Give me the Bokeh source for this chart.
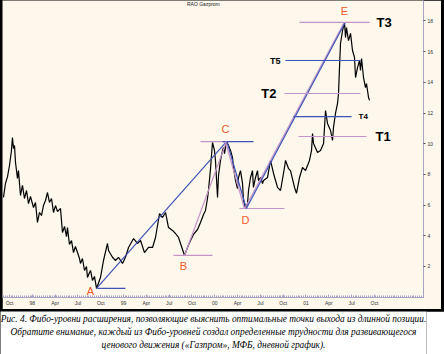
from bokeh.plotting import figure
from bokeh.models import Range1d, FixedTicker, ColumnDataSource
from bokeh.layouts import column
from bokeh.embed import file_html
from bokeh.resources import INLINE
from bokeh.core.properties import value

# x = months since 1 Oct 1997, y = price
price_month = [0.00, 0.26, 0.53, 0.79, 1.05, 1.18, 1.32, 1.45, 1.58, 1.84, 1.97, 2.24, 2.50, 2.76, 3.03,
               3.29, 3.55, 3.95, 4.21, 4.47, 4.74, 5.00, 5.26, 5.53, 5.79, 6.05, 6.32, 6.58, 6.84, 7.11,
               7.50, 7.76, 8.03, 8.29, 8.42, 8.68, 8.95, 9.21, 9.47, 9.74, 10.00, 10.13, 10.39, 10.66,
               10.92, 11.05, 11.32, 11.45, 11.71, 11.97, 12.24,
               12.76, 13.16, 13.68, 13.82, 14.34, 14.74, 15.13, 15.66, 16.05, 16.45, 17.11, 17.63, 18.03,
               18.55, 19.08, 19.61, 20.00, 20.53, 20.92, 21.32, 21.71, 22.24, 22.63, 23.03, 23.29, 23.82,
               24.21, 24.61, 25.00, 25.53, 25.92, 26.32, 26.58, 26.84, 26.97, 27.24, 27.50, 27.76, 27.89,
               28.16, 28.29, 28.55, 28.82, 28.95, 29.08, 29.34,
               29.61, 29.87, 30.13, 30.26, 30.53, 30.79, 30.92, 31.18, 31.45, 31.58, 31.84,
               32.11, 32.24, 32.50, 32.76, 32.89, 33.16, 33.42, 33.55, 33.82, 34.08, 34.21, 34.74, 35.13,
               35.53, 36.05, 36.45, 36.97, 37.11, 37.50, 37.76, 38.29, 38.55, 38.95, 39.34, 39.74, 40.26,
               40.53, 40.66, 40.79, 41.32, 41.71, 42.11, 42.37, 42.63, 43.03, 43.29, 43.42, 43.68, 43.95,
               44.08, 44.21, 44.34, 44.61, 44.87, 45.00, 45.13, 45.39, 45.66, 45.92, 46.18, 46.32, 46.58,
               46.84, 46.97, 47.11, 47.37, 47.63, 47.76, 48.03, 48.16]
price_value = [6.50, 7.41, 7.86, 8.58, 9.56, 10.40, 9.69, 9.88, 8.78, 7.73, 8.25, 6.63, 7.28, 6.43, 6.95,
               6.10, 6.56, 5.84, 6.17, 4.87, 5.52, 5.32, 5.97, 6.30, 6.82, 6.17, 6.43, 5.52, 5.97, 5.58,
               5.78, 4.21, 4.61, 3.95, 4.54, 3.43, 3.69, 2.91, 3.30, 2.91, 2.52, 2.20, 2.52, 1.74,
               2.00, 1.28, 1.61, 1.74, 1.09, 1.35, 0.57,
               1.28, 2.39, 3.50, 3.04, 2.60, 2.39, 2.60, 2.20, 2.60, 3.24, 3.82, 3.50, 3.69,
               2.91, 3.24, 3.24, 3.89, 5.45, 5.19, 5.52, 4.54, 4.35, 4.15, 3.89, 3.50, 2.72,
               3.24, 3.69, 4.09, 4.41, 4.87, 5.39, 5.65, 6.43, 6.95, 8.38, 10.08, 9.56, 8.91,
               6.50, 7.93, 8.91, 9.56, 9.75, 9.36, 10.14,
               9.88, 9.56, 9.10, 8.45, 7.60, 7.08, 7.80, 8.25, 7.41, 6.30, 5.78,
               6.10, 6.95, 7.80, 8.25, 7.15, 7.80, 8.25, 7.60, 7.80, 7.41, 7.60, 7.80, 8.91,
               8.06, 7.15, 6.95, 8.45, 8.91, 8.38, 8.25, 7.15, 6.76, 7.80, 8.45, 8.25, 8.91,
               9.56, 10.66, 10.01, 9.43, 9.56, 10.01, 12.16, 11.32, 10.86, 10.21, 11.06, 11.97, 12.62,
               13.27, 14.96, 16.53, 17.38, 17.90, 16.92, 17.57, 16.72, 17.19, 16.07, 15.62, 14.31, 14.96,
               15.42, 14.77, 15.55, 14.31, 13.66, 13.92, 13.01, 12.82]

tick_months = [0, 3, 6, 9, 12, 15, 18, 21, 24, 27, 30, 33, 36, 39, 42, 45, 48]
tick_labels = ["Oct", "98", "Apr", "Jul", "Oct", "99", "Apr", "Jul", "Oct", "00",
               "Apr", "Jul", "Oct", "01", "Apr", "Jul", "Oct"]
y_ticks = [2, 4, 6, 8, 10, 12, 14, 16, 18]

# pivot points
pivot_names = ["A", "B", "C", "D", "E"]
pivot_month = [12.24, 23.82, 29.34, 31.84, 44.87]
pivot_value = [0.57, 2.72, 10.14, 5.78, 17.90]

# horizontal levels at pivots
level_value = [0.57, 2.72, 10.14, 10.14, 5.78]
level_start = [12.37, 22.37, 25.92, 28.82, 31.05]
level_end = [16.05, 27.50, 29.60, 32.89, 36.97]
level_kind = ["blue", "pink", "pink", "blue", "pink"]

# swing lines
diag_x0 = [12.24, 23.82, 29.20, 29.40, 31.75, 31.95]
diag_y0 = [0.57, 2.72, 10.14, 10.14, 5.78, 5.78]
diag_x1 = [29.34, 29.34, 31.70, 31.95, 44.82, 44.95]
diag_y1 = [10.14, 10.14, 5.78, 5.78, 17.90, 17.90]
diag_kind = ["blue", "pink", "pink", "blue", "pink", "blue"]

# Fibonacci extension targets
target_names = ["T1", "T2", "T3", "T4", "T5"]
target_value = [10.47, 13.27, 17.90, 11.77, 15.42]
target_start = [38.82, 36.97, 38.95, 38.16, 37.10]
target_end = [47.76, 46.97, 48.16, 45.79, 46.97]
target_kind = ["pink", "pink", "pink", "blue", "blue"]

BLUE = "#3f52b5"
PINK = "#c594c8"
CREAM = "#fdf7ec"
AXIS = "#a7a2c6"
ORANGE = "#f0592a"
col = {"blue": BLUE, "pink": PINK}

p = figure(width=439, height=309, x_range=Range1d(-0.13, 55.26), y_range=Range1d(-0.02, 19.33),
           output_backend="svg", toolbar_location=None, y_axis_location="right",
           min_border_left=0, min_border_top=0, min_border_right=18, min_border_bottom=12,
           margin=(0, 3, 2, 2))
p.background_fill_color = CREAM
p.border_fill_color = CREAM
p.outline_line_color = None
p.grid.visible = False

xa = p.xaxis[0]
xa.ticker = FixedTicker(ticks=[m + 0.8 for m in tick_months],
                        minor_ticks=[i * 0.25 for i in range(0, 222)])
xa.major_label_overrides = {m + 0.8: lab for m, lab in zip(tick_months, tick_labels)}
xa.axis_line_color = AXIS
xa.major_tick_line_color = AXIS
xa.minor_tick_line_color = AXIS
xa.major_tick_in = 3
xa.major_tick_out = 0
xa.minor_tick_in = 2
xa.minor_tick_out = 0
xa.major_label_standoff = 2
xa.major_label_text_font = "Liberation Sans"
xa.major_label_text_font_size = "5px"
xa.major_label_text_color = "#333333"

ya = p.yaxis[0]
ya.ticker = FixedTicker(ticks=y_ticks)
ya.axis_line_color = AXIS
ya.major_tick_line_color = "#555555"
ya.major_tick_in = 0
ya.major_tick_out = 2
ya.minor_tick_line_color = None
ya.major_label_standoff = 2
ya.major_label_text_font = "Liberation Sans"
ya.major_label_text_font_size = "5px"
ya.major_label_text_color = "#333333"

# title at the very top
p.text(x=[26.3], y=[19.33], text=["RAO Gazprom"], text_font=value("Liberation Sans"),
       text_font_size="5px", text_align="center", text_baseline="top", y_offset=0.5,
       text_color="#222222")

# price
p.line(price_month, price_value, line_color="black", line_width=1.2)

# pivot levels
p.segment(x0=level_start, y0=level_value, x1=level_end, y1=level_value,
          line_color=[col[k] for k in level_kind], line_width=1.2)
# swing lines
p.segment(x0=diag_x0, y0=diag_y0, x1=diag_x1, y1=diag_y1,
          line_color=[col[k] for k in diag_kind], line_width=1.2)
# targets
p.segment(x0=target_start, y0=target_value, x1=target_end, y1=target_value,
          line_color=[col[k] for k in target_kind], line_width=1.2)

# pivot letters
src = ColumnDataSource(dict(x=pivot_month, y=pivot_value, t=pivot_names,
                            dx=[-6, -1, -1, 0, 0], dy=[3, 11, -13, 12, -11]))
p.text(x="x", y="y", text="t", source=src, x_offset="dx", y_offset="dy",
       text_font=value("Liberation Sans"), text_font_size="11px", text_color=ORANGE,
       text_align="center", text_baseline="middle")

# target labels
def tlabel(i, size, side, off):
    xpos = target_end[i] if side == "right" else target_start[i]
    p.text(x=[xpos], y=[target_value[i]], text=[target_names[i]], x_offset=off,
           text_font=value("Liberation Sans"), text_font_style="bold", text_font_size=size,
           text_color="black", text_align="left" if side == "right" else "right",
           text_baseline="middle")

tlabel(0, "13px", "right", 9)
tlabel(1, "13px", "left", -8)
tlabel(2, "13px", "right", 7)
tlabel(3, "8px", "right", 7)
tlabel(4, "9px", "left", -5)

# caption
caption_lines = [
    "Рис. 4. Фибо-уровни расширения, позволяющие выяснить оптимальные точки выхода из длинной позиции.",
    "Обратите внимание, каждый из Фибо-уровней создал определенные трудности для развивающегося",
    "ценового движения («Газпром», МФБ, дневной график).",
]
cap = figure(width=444, height=43, x_range=Range1d(0, 444), y_range=Range1d(0, 43),
             output_backend="svg", toolbar_location=None, min_border=0, margin=(0, 0, 0, 0))
cap.axis.visible = False
cap.grid.visible = False
cap.outline_line_color = None
cap.background_fill_color = "white"
cap.border_fill_color = "white"
cap.text(x=[222, 222, 222], y=[36, 23, 10], text=caption_lines,
         text_font=value("Liberation Serif"), text_font_style="italic", text_font_size="9.4px",
         text_align="center", text_baseline="middle", text_color="black")

layout = column(p, cap, spacing=0, styles={"background-color": "black"})
open("out.html", "w").write(file_html(layout, INLINE))
